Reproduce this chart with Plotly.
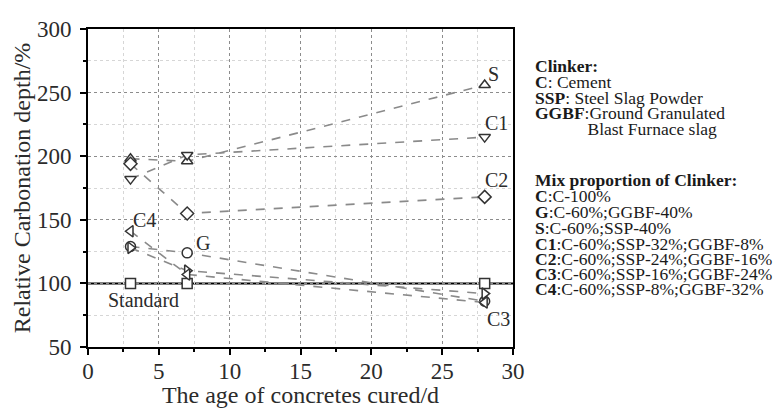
import plotly.graph_objects as go

# ---- data ----
days = [3, 7, 28]
standard_vals = [100, 100, 100]
g_vals = [129, 124, 86]
s_vals = [198, 196, 256]
c1_vals = [182, 201, 215]
c2_vals = [194, 155, 168]
c3_vals = [128, 110, 92]
c4_vals = [141, 107, 85]
standard_level = 100

series_names = ["Standard", "G", "S", "C1", "C2", "C3", "C4"]
series_vals = [standard_vals, g_vals, s_vals, c1_vals, c2_vals, c3_vals, c4_vals]
series_symbols = ["square", "circle", "triangle-up", "triangle-down", "diamond",
                  "triangle-right", "triangle-left"]

# labels placed next to the curves (x, y in data units)
curve_labels = ["S", "C1", "C2", "C3", "C4", "G", "Standard"]
curve_label_x = [28.6, 28.8, 28.8, 29.0, 4.0, 8.1, 3.9]
curve_label_y = [265, 226, 181, 72, 149.5, 131.5, 87]

# side text
side_lines = [
    "<b>Clinker:</b>",
    "<b>C</b>: Cement",
    "<b>SSP</b>: Steel Slag Powder",
    "<b>GGBF</b>:Ground Granulated",
    "            Blast Furnace slag",
    "<b>Mix proportion of Clinker:</b>",
    "<b>C</b>:C-100%",
    "<b>G</b>:C-60%;GGBF-40%",
    "<b>S</b>:C-60%;SSP-40%",
    "<b>C1</b>:C-60%;SSP-32%;GGBF-8%",
    "<b>C2</b>:C-60%;SSP-24%;GGBF-16%",
    "<b>C3</b>:C-60%;SSP-16%;GGBF-24%",
    "<b>C4</b>:C-60%;SSP-8%;GGBF-32%",
]
side_y_px = [66, 82, 98, 113, 129, 180, 196, 212, 228, 244, 259, 274, 289]

FONT = "Liberation Serif"
TXT = "#2b2b2b"

W, H = 780, 408
L, R, T, B = 88, 267, 29, 61
plot_h = H - T - B
plot_w = W - L - R

fig = go.Figure()

fig.add_hline(y=standard_level, line=dict(color="black", width=2), layer="below")

for name, vals, sym in zip(series_names, series_vals, series_symbols):
    fig.add_trace(go.Scatter(
        x=days, y=vals, name=name, mode="lines+markers",
        line=dict(color="#8a8a8a", width=1.6, dash="dash") if name != "Standard"
        else dict(color="rgba(0,0,0,0)", width=0),
        marker=dict(symbol=sym, size=10, color="white",
                    line=dict(color="#333333", width=1.5)),
        showlegend=False, cliponaxis=False,
    ))

for t, x, y in zip(curve_labels, curve_label_x, curve_label_y):
    fig.add_annotation(x=x, y=y, text=t, showarrow=False, xref="x", yref="y",
                       font=dict(family=FONT, size=20, color=TXT))

for t, py in zip(side_lines, side_y_px):
    fig.add_annotation(x=(533 - L) / plot_w, y=(H - B - py) / plot_h, text=t,
                       showarrow=False, xref="paper", yref="paper",
                       xanchor="left", yanchor="middle",
                       font=dict(family=FONT, size=17.5, color="#1a1a1a"))

axis_common = dict(
    showline=True, linecolor="black", linewidth=2, mirror=True,
    ticks="outside", ticklen=6, tickwidth=1.5, tickcolor="black",
    showgrid=True, gridcolor="#8c8c8c", griddash="dot", gridwidth=1.3,
    zeroline=False, automargin=False,
    tickfont=dict(family=FONT, size=23, color=TXT),
)

fig.update_xaxes(
    range=[0, 30], dtick=5, tick0=0,
    title=dict(text="The age of concretes cured/d",
               font=dict(family=FONT, size=24, color=TXT), standoff=0),
    minor=dict(dtick=2.5, ticks="outside", ticklen=3, tickcolor="black",
               showgrid=True, gridcolor="#d6d6d6", griddash="dot", gridwidth=1),
    ticklabelstandoff=-4,
    **axis_common,
)
fig.update_yaxes(
    range=[50, 300], dtick=50, tick0=0,
    title=dict(text="Relative Carbonation depth/%",
               font=dict(family=FONT, size=24, color=TXT), standoff=0),
    minor=dict(dtick=25, ticks="outside", ticklen=3, tickcolor="black",
               showgrid=True, gridcolor="#d6d6d6", griddash="dot", gridwidth=1),
    ticklabelstandoff=4,
    **axis_common,
)

fig.update_layout(
    width=W, height=H,
    margin=dict(l=L, r=R, t=T, b=B),
    plot_bgcolor="white", paper_bgcolor="white",
)

fig.write_html("out.html", config={"displayModeBar": False},
               post_script="document.body.style.margin='0';document.body.style.padding='0';")
